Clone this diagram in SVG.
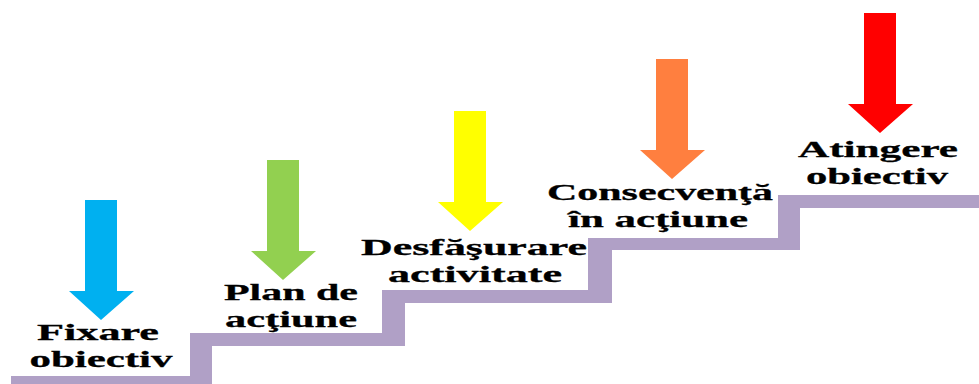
<svg xmlns="http://www.w3.org/2000/svg" width="979" height="384" viewBox="0 0 979 384">
<style>
.t{font-family:"Liberation Serif",serif;font-weight:bold;font-size:24px;fill:#000;text-anchor:middle;stroke:#000;stroke-width:.3px}
</style>
<rect width="979" height="384" fill="#fff"/>
<g id="stairs"><polygon fill="#b0a0c6" points="11,376 190,376 190,333 382,333 382,290 588,290 588,238 778,238 778,195 979,195 979,208 800,208 800,250 612,250 612,303 405,303 405,346 212,346 212,384 11,384"/></g>
<g id="step1"><polygon points="85,200 117,200 117,291 134,291 101,320 69,291 85,291" fill="#00b0f0"/>
<text class="t" x="98" y="340" textLength="122" lengthAdjust="spacingAndGlyphs">Fixare</text><text class="t" x="101" y="367" textLength="143" lengthAdjust="spacingAndGlyphs">obiectiv</text></g>
<g id="step2"><polygon points="267,160 299,160 299,251 316,251 283,280 251,251 267,251" fill="#92d050"/>
<text class="t" x="291" y="300" textLength="134" lengthAdjust="spacingAndGlyphs">Plan de</text><text class="t" x="291" y="327" textLength="132" lengthAdjust="spacingAndGlyphs">acţiune</text></g>
<g id="step3"><polygon points="454,111 486,111 486,202 503,202 470,231 438,202 454,202" fill="#ffff00"/>
<text class="t" x="474" y="255" textLength="226" lengthAdjust="spacingAndGlyphs">Desfăşurare</text><text class="t" x="475" y="282" textLength="174" lengthAdjust="spacingAndGlyphs">activitate</text></g>
<g id="step4"><polygon points="656,59 688,59 688,150 705,150 672,179 640,150 656,150" fill="#ff7f3f"/>
<text class="t" x="660" y="200" textLength="226" lengthAdjust="spacingAndGlyphs">Consecvenţă</text><text class="t" x="658" y="227" textLength="180" lengthAdjust="spacingAndGlyphs">în acţiune</text></g>
<g id="step5"><polygon points="864,13 896,13 896,104 913,104 880,133 848,104 864,104" fill="#ff0000"/>
<text class="t" x="878" y="157" textLength="160" lengthAdjust="spacingAndGlyphs">Atingere</text><text class="t" x="877" y="184" textLength="142" lengthAdjust="spacingAndGlyphs">obiectiv</text></g>
</svg>
